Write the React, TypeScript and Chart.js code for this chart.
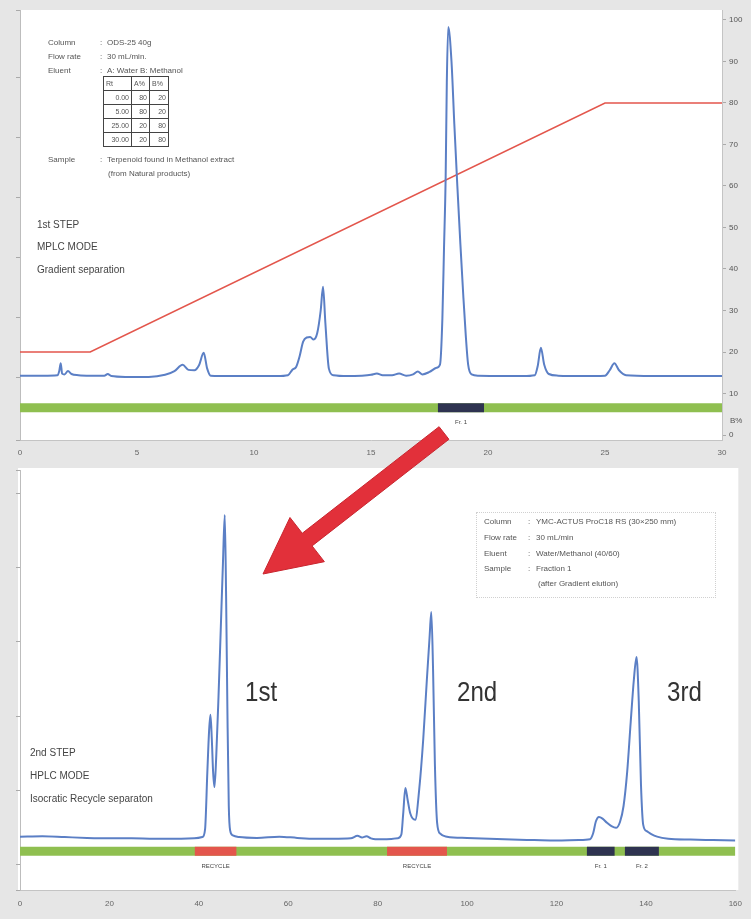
import React, { useEffect, useRef } from 'react';
import { Chart, registerables } from 'chart.js';
Chart.register(...registerables);

// ---------- 1st step (MPLC gradient) ----------
const topTime = [
  0, 1.0, 1.6, 1.68, 1.74, 1.8, 1.9, 2.05, 2.2, 2.5,
  3.0, 3.6, 3.75, 3.9, 4.5, 5.5, 6.2, 6.6, 6.95, 7.2,
  7.45, 7.65, 7.85, 8.0, 8.15, 9.0, 10.0, 11.0, 11.45, 11.65,
  11.8, 11.95, 12.1, 12.25, 12.4, 12.55, 12.7, 12.85, 12.95, 13.05,
  13.2, 13.4, 14.0, 14.6, 15.0, 15.25, 15.5, 15.9, 16.2, 16.5,
  16.8, 17.0, 17.2, 17.5, 17.8, 17.95, 18.05, 18.12, 18.19, 18.24,
  18.3, 18.44, 18.56, 18.69, 18.82, 18.95, 19.05, 19.15, 19.3, 19.6,
  20.5, 21.5, 22.0, 22.12, 22.26, 22.4, 22.6, 23.0, 24.0, 25.0,
  25.2, 25.4, 25.6, 25.9, 27.0, 28.5, 30.0,
];
const topSignal = [
  14.3, 14.3, 14.4, 15.5, 17.3, 14.8, 14.6, 15.4, 14.7, 14.4,
  14.3, 14.3, 14.7, 14.2, 14.0, 14.0, 14.5, 15.4, 16.9, 15.7,
  15.6, 16.8, 19.8, 16.0, 14.3, 14.2, 14.2, 14.2, 14.4, 15.8,
  16.4, 19.0, 22.5, 23.5, 23.6, 23.0, 24.5, 30, 35.7, 27,
  16, 14.4, 14.2, 14.3, 14.5, 14.8, 14.4, 14.4, 14.8, 14.3,
  14.6, 15.3, 14.6, 15.2, 16.2, 17.0, 28, 45, 62, 85,
  98.3, 90, 75, 60, 46, 33, 24, 17, 14.6, 14.3,
  14.2, 14.2, 14.4, 16.5, 21.0, 17.0, 14.7, 14.3, 14.2, 14.3,
  15.6, 17.3, 15.6, 14.4, 14.2, 14.2, 14.2,
];
const gradTime = [0, 3, 25, 30];
const gradB = [20, 20, 80, 80];
const topYTicks = [0, 10, 20, 30, 40, 50, 60, 70, 80, 90, 100];
const topBarLevel = 6.6;
const topFracStart = [17.86];
const topFracEnd = [19.83];
const topFracLabels = ['Fr. 1'];

// gradient table
const tableRt = ['0.00', '5.00', '25.00', '30.00'];
const tableA = [80, 80, 20, 20];
const tableB = [20, 20, 80, 80];

// ---------- 2nd step (HPLC recycle) ----------
const botTime = [
  0, 5, 10, 15, 20, 25, 30, 35, 39, 40.8,
  41.4, 41.9, 42.3, 42.6, 42.9, 43.2, 43.5, 43.9, 44.4, 44.9,
  45.4, 45.8, 46.1, 46.4, 46.7, 47.0, 47.6, 49, 53, 58,
  62, 66, 70, 74, 75.5, 76.5, 77.5, 78.5, 79.5, 82,
  84.5, 85.3, 85.7, 86.2, 86.7, 87.3, 88.4, 89.3, 90.2, 91.0,
  91.6, 92.0, 92.4, 92.8, 93.3, 94.0, 95.5, 100, 105, 110,
  115, 120, 125, 127.5, 128.2, 128.8, 129.5, 130.3, 131.3, 132.3,
  133.3, 134.2, 135.0, 135.8, 136.6, 137.3, 137.9, 138.4, 138.9, 139.4,
  140.2, 141.2, 142.5, 145, 150, 155, 160,
];
const botSignal = [
  12.7, 12.8, 12.6, 12.4, 12.3, 12.3, 12.2, 12.2, 12.3, 12.6,
  14.5, 28, 38, 41.7, 36, 28, 24.5, 32, 46, 62,
  78, 89.3, 70, 42, 20, 14.2, 13.0, 12.6, 12.4, 12.7,
  12.4, 12.2, 12.2, 12.3, 12.9, 12.5, 12.8, 12.3, 12.1, 12.1,
  12.3, 13.2, 18, 24.3, 21.5, 18.2, 16.7, 24, 36, 50,
  60, 66.2, 52, 30, 16, 13.4, 12.7, 12.4, 12.2, 12.0,
  11.9, 11.8, 11.9, 12.1, 13.5, 16.3, 17.4, 17.0, 16.0, 15.2,
  14.8, 16.2, 20, 28, 40, 50, 55.5, 45, 25, 15.5,
  14.0, 13.3, 12.7, 12.2, 12.0, 11.9, 11.8,
];
const botBarLevel = 9.2;
const recycleStart = [39.1, 82.1];
const recycleEnd = [48.4, 95.5];
const botFracStart = [126.8, 135.3];
const botFracEnd = [133.0, 142.9];
const botFracLabels = ['Fr. 1', 'Fr. 2'];
const cycleLabels = ['1st', '2nd', '3rd'];

const FONT = "'Liberation Sans', Arial, sans-serif";
const GRAY = '#e6e6e6';
const BLUE = '#5b7fc5';
const GREEN = '#8fbf50';
const NAVY = '#2e3350';
const RED = '#e3564c';

const pts = (xs: number[], ys: number[]) => xs.map((x, i) => ({ x, y: ys[i] }));
const barLine = (a: number, b: number, lvl: number, color: string) => ({
  data: [{ x: a, y: lvl }, { x: b, y: lvl }],
  borderColor: color,
  borderWidth: 9,
  borderCapStyle: 'butt',
  pointRadius: 0,
});

const bgPlugin = {
  id: 'bgPanel',
  beforeDraw(chart: any, _args: any, opts: any) {
    const { ctx, chartArea: a, width, height } = chart;
    ctx.save();
    ctx.fillStyle = GRAY;
    ctx.fillRect(0, 0, width, height);
    ctx.fillStyle = '#ffffff';
    const p = opts.pad || [0, 0, 0, 0];
    ctx.fillRect(a.left - p[0], a.top - p[1], a.right - a.left + p[0] + p[2], a.bottom - a.top + p[1] + p[3]);
    ctx.restore();
  },
};

const labelPlugin = {
  id: 'barLabels',
  afterDatasetsDraw(chart: any, _args: any, opts: any) {
    const { ctx } = chart;
    const xs = chart.scales.x;
    const ys = chart.scales.y;
    ctx.save();
    ctx.fillStyle = '#444';
    ctx.font = `6px ${FONT}`;
    ctx.textAlign = 'center';
    ctx.textBaseline = 'middle';
    (opts.items || []).forEach((it: any) => {
      ctx.fillText(it.text, xs.getPixelForValue(it.x), ys.getPixelForValue(opts.level) + opts.offset);
    });
    if (opts.extra) {
      ctx.font = `8px ${FONT}`;
      ctx.fillStyle = '#555';
      ctx.textAlign = 'left';
      ctx.fillText(opts.extra.text, chart.chartArea.right + 8, ys.getPixelForValue(opts.extra.y));
    }
    ctx.restore();
  },
};

function TopChart() {
  const ref = useRef<HTMLCanvasElement>(null);
  useEffect(() => {
    const fracBars = topFracStart.map((s, i) => barLine(s, topFracEnd[i], topBarLevel, NAVY));
    const chart = new Chart(ref.current!, {
      type: 'line',
      data: {
        datasets: [
          { data: pts(topTime, topSignal), borderColor: BLUE, borderWidth: 2, pointRadius: 0, cubicInterpolationMode: 'monotone' } as any,
          { data: pts(gradTime, gradB), borderColor: RED, borderWidth: 1.6, pointRadius: 0 } as any,
          ...fracBars,
          barLine(0, 30, topBarLevel, GREEN),
        ],
      },
      options: {
        animation: false,
        responsive: false,
        events: [],
        layout: { padding: { left: 20, top: 10, right: 0, bottom: 0 } },
        plugins: {
          legend: { display: false },
          tooltip: { enabled: false },
          bgPanel: { pad: [0, 0, 0, 0] },
          barLabels: {
            level: topBarLevel,
            offset: 15,
            items: topFracLabels.map((t, i) => ({ text: t, x: (topFracStart[i] + topFracEnd[i]) / 2 })),
            extra: { text: 'B%', y: 3.4 },
          },
        } as any,
        scales: {
          x: {
            type: 'linear', min: 0, max: 30,
            grid: { display: false, drawTicks: false },
            border: { display: true, color: '#c4c4c4' },
            ticks: { stepSize: 5, font: { size: 8, family: FONT }, color: '#666', padding: 8 },
            afterFit: (s: any) => { s.height = 22; },
          },
          y: {
            position: 'right', min: -1.2, max: 102.4,
            afterBuildTicks: (s: any) => { s.ticks = topYTicks.map((v) => ({ value: v })); },
            grid: { drawOnChartArea: false, tickLength: 4, color: '#aaa' },
            border: { display: true, color: '#c4c4c4' },
            ticks: { font: { size: 8, family: FONT }, color: '#555', padding: 3 },
            afterFit: (s: any) => { s.width = 29; },
          },
          yl: {
            position: 'left', min: -1.05, max: 6.12,
            ticks: { display: false, stepSize: 1 },
            grid: { drawOnChartArea: false, tickLength: 4, color: '#aaa' },
            border: { display: true, color: '#bdbdbd' },
            afterFit: (s: any) => { s.width = 0; },
          },
        } as any,
      },
      plugins: [bgPlugin, labelPlugin],
    });
    return () => chart.destroy();
  }, []);
  return <canvas ref={ref} width={751} height={462} style={{ display: 'block', position: 'absolute', left: 0, top: 0 }} />;
}

function BottomChart() {
  const ref = useRef<HTMLCanvasElement>(null);
  useEffect(() => {
    const fracBars = botFracStart.map((s, i) => barLine(s, botFracEnd[i], botBarLevel, NAVY));
    const recBars = recycleStart.map((s, i) => barLine(s, recycleEnd[i], botBarLevel, RED));
    const items = [
      ...recycleStart.map((s, i) => ({ text: 'RECYCLE', x: (s + recycleEnd[i]) / 2 })),
      ...botFracLabels.map((t, i) => ({ text: t, x: (botFracStart[i] + botFracEnd[i]) / 2 })),
    ];
    const chart = new Chart(ref.current!, {
      type: 'line',
      data: {
        datasets: [
          { data: pts(botTime, botSignal), borderColor: BLUE, borderWidth: 2, pointRadius: 0, cubicInterpolationMode: 'monotone' } as any,
          ...fracBars,
          ...recBars,
          barLine(0, 160, botBarLevel, GREEN),
        ],
      },
      options: {
        animation: false,
        responsive: false,
        events: [],
        layout: { padding: { left: 20, top: 8, right: 14, bottom: 0 } },
        plugins: {
          legend: { display: false },
          tooltip: { enabled: false },
          bgPanel: { pad: [2, 2, 3, 0] },
          barLabels: { level: botBarLevel, offset: 15, items },
        } as any,
        scales: {
          x: {
            type: 'linear', min: 0, max: 160,
            grid: { display: false, drawTicks: false },
            border: { display: true, color: '#c4c4c4' },
            ticks: { stepSize: 20, font: { size: 8, family: FONT }, color: '#666', padding: 9 },
            afterFit: (s: any) => { s.height = 29; },
          },
          y: { display: false, min: 0, max: 100 },
          yl: {
            position: 'left', min: -0.351, max: 5.324,
            ticks: { display: false, stepSize: 1 },
            grid: { drawOnChartArea: false, tickLength: 4, color: '#aaa' },
            border: { display: true, color: '#bdbdbd' },
            afterFit: (s: any) => { s.width = 0; },
          },
        } as any,
      },
      plugins: [bgPlugin, labelPlugin],
    });
    return () => chart.destroy();
  }, []);
  return <canvas ref={ref} width={751} height={457} style={{ display: 'block', position: 'absolute', left: 0, top: 462 }} />;
}

const small: React.CSSProperties = { position: 'absolute', fontFamily: FONT, fontSize: 8, color: '#555', whiteSpace: 'nowrap', lineHeight: '10px' };
const mid: React.CSSProperties = { position: 'absolute', fontFamily: FONT, fontSize: 10, color: '#444', whiteSpace: 'nowrap', lineHeight: '12px' };

function Row({ x, y, label, value, colonX, valueX }: any) {
  return (
    <>
      <div style={{ ...small, left: x, top: y - 5 }}>{label}</div>
      <div style={{ ...small, left: colonX, top: y - 5 }}>:</div>
      <div style={{ ...small, left: valueX, top: y - 5 }}>{value}</div>
    </>
  );
}

function GradTable() {
  const cell: React.CSSProperties = { border: '1px solid #444', padding: '0 2px', height: 13, textAlign: 'right', fontFamily: FONT, fontSize: 7, color: '#555' };
  return (
    <table style={{ position: 'absolute', left: 103, top: 76, borderCollapse: 'collapse', border: '1px solid #333' }}>
      <tbody>
        <tr>
          <td style={{ ...cell, width: 23, textAlign: 'left' }}>Rt</td>
          <td style={{ ...cell, width: 13, textAlign: 'left' }}>A%</td>
          <td style={{ ...cell, width: 14, textAlign: 'left' }}>B%</td>
        </tr>
        {tableRt.map((r, i) => (
          <tr key={r}>
            <td style={cell}>{r}</td>
            <td style={cell}>{tableA[i]}</td>
            <td style={cell}>{tableB[i]}</td>
          </tr>
        ))}
      </tbody>
    </table>
  );
}

function Arrow() {
  const tail = [444, 433];
  const tip = [263, 574];
  const dx = tip[0] - tail[0];
  const dy = tip[1] - tail[1];
  const L = Math.hypot(dx, dy);
  const ux = dx / L, uy = dy / L;
  const px = -uy, py = ux;
  const headLen = 56, headW = 28, shaftW = 8;
  const bx = tip[0] - ux * headLen, by = tip[1] - uy * headLen;
  const p = [
    [tail[0] + px * shaftW, tail[1] + py * shaftW],
    [bx + px * shaftW, by + py * shaftW],
    [bx + px * headW, by + py * headW],
    [tip[0], tip[1]],
    [bx - px * headW, by - py * headW],
    [bx - px * shaftW, by - py * shaftW],
    [tail[0] - px * shaftW, tail[1] - py * shaftW],
  ];
  return (
    <svg width={751} height={919} style={{ position: 'absolute', left: 0, top: 0, pointerEvents: 'none' }}>
      <polygon points={p.map((q) => q.join(',')).join(' ')} fill="#e2303a" stroke="#c8262f" strokeWidth={1} />
    </svg>
  );
}

export default function App() {
  const bigLabel: React.CSSProperties = {
    position: 'absolute', fontFamily: FONT, fontSize: 28, color: '#333', lineHeight: '30px',
    transform: 'scaleX(0.86)', transformOrigin: 'left center', whiteSpace: 'nowrap',
  };
  const bigX = [245, 457, 667];
  return (
    <div style={{ position: 'absolute', left: 0, top: 0, width: 751, height: 919, background: GRAY, overflow: 'hidden' }}>
      <TopChart />
      <BottomChart />

      {/* top info block */}
      <Row x={48} y={43} colonX={100} valueX={107} label="Column" value="ODS-25 40g" />
      <Row x={48} y={57} colonX={100} valueX={107} label="Flow rate" value="30 mL/min." />
      <Row x={48} y={71} colonX={100} valueX={107} label="Eluent" value="A: Water  B: Methanol" />
      <GradTable />
      <Row x={48} y={160} colonX={100} valueX={107} label="Sample" value="Terpenoid found in Methanol extract" />
      <div style={{ ...small, left: 108, top: 169 }}>(from Natural products)</div>

      <div style={{ ...mid, left: 37, top: 219 }}>1st STEP</div>
      <div style={{ ...mid, left: 37, top: 241 }}>MPLC MODE</div>
      <div style={{ ...mid, left: 37, top: 264 }}>Gradient separation</div>

      {/* bottom info block */}
      <div style={{ position: 'absolute', left: 476, top: 512, width: 238, height: 84, border: '1px dotted #d0d0d0' }} />
      <Row x={484} y={522} colonX={528} valueX={536} label="Column" value="YMC-ACTUS ProC18 RS (30×250 mm)" />
      <Row x={484} y={538} colonX={528} valueX={536} label="Flow rate" value="30 mL/min" />
      <Row x={484} y={554} colonX={528} valueX={536} label="Eluent" value="Water/Methanol (40/60)" />
      <Row x={484} y={569} colonX={528} valueX={536} label="Sample" value="Fraction 1" />
      <div style={{ ...small, left: 538, top: 579 }}>(after Gradient elution)</div>

      <div style={{ ...mid, left: 30, top: 747 }}>2nd STEP</div>
      <div style={{ ...mid, left: 30, top: 770 }}>HPLC MODE</div>
      <div style={{ ...mid, left: 30, top: 793 }}>Isocratic Recycle separaton</div>

      {cycleLabels.map((t, i) => (
        <div key={t} style={{ ...bigLabel, left: bigX[i], top: 677 }}>{t}</div>
      ))}

      <Arrow />
    </div>
  );
}
